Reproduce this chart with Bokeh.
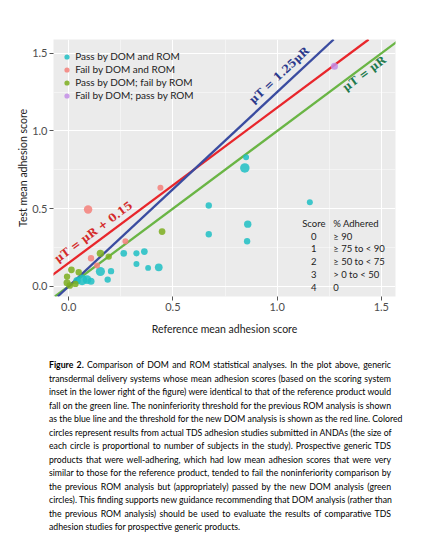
import math
from bokeh.plotting import figure
from bokeh.models import ColumnDataSource, FixedTicker, Slope, Label, Div, Range1d
from bokeh.layouts import column
from bokeh.embed import file_html
from bokeh.resources import INLINE

# ---------------- data ----------------
pass_both_x = [0.851, 0.845, 0.672, 1.157, 0.859, 0.672, 0.856, 0.264, 0.325, 0.363,
               0.325, 0.381, 0.432, 0.152, 0.203, 0.187, 0.064, 0.088, 0.107, 0.040]
pass_both_y = [0.831, 0.762, 0.520, 0.541, 0.400, 0.335, 0.290, 0.212, 0.212, 0.223,
               0.144, 0.118, 0.122, 0.095, 0.097, 0.043, 0.041, 0.043, 0.032, 0.035]
pass_both_n = [30, 80, 35, 30, 50, 35, 35, 40, 32, 40, 30, 28, 55, 75, 35, 35, 95, 70, 45, 50]

fail_both_x = [0.093, 0.440, 0.272, 0.107, 0.136]
fail_both_y = [0.494, 0.634, 0.290, 0.180, 0.133]
fail_both_n = [65, 30, 28, 35, 30]

pass_dom_x = [0.448, 0.152, 0.192, 0.013, 0.048, -0.008, 0.005, 0.032, -0.008]
pass_dom_y = [0.352, 0.212, 0.191, 0.106, 0.090, 0.022, 0.005, 0.015, 0.062]
pass_dom_n = [40, 50, 35, 40, 35, 45, 40, 35, 35]

fail_dom_x = [1.275]
fail_dom_y = [1.417]
fail_dom_n = [45]

series_names = ["Pass by DOM and ROM", "Fail by DOM and ROM",
                "Pass by DOM; fail by ROM", "Fail by DOM; pass by ROM"]

tick_values = [0.0, 0.5, 1.0, 1.5]
tick_labels = ["0.0", "0.5", "1.0", "1.5"]
minor_values = [0.25, 0.75, 1.25]

score_levels = ["0", "1", "2", "3", "4"]
pct_adhered = ["\u2265 90", "\u2265 75 to  < 90", "\u2265 50 to < 75", "> 0 to < 50", "0"]

# lines: (gradient, intercept)
equal_line = (1.0, 0.0)
rom_line = (1.25, 0.0)
dom_line = (1.0, 0.15)

caption_lines = [
    "<b>Figure 2.</b> Comparison of DOM and ROM statistical analyses. In the plot above, generic",
    "transdermal delivery systems whose mean adhesion scores (based on the scoring system",
    "inset in the lower right of the figure) were identical to that of the reference product would",
    "fall on the green line. The noninferiority threshold for the previous ROM analysis is shown",
    "as the blue line and the threshold for the new DOM analysis is shown as the red line. Colored",
    "circles represent results from actual TDS adhesion studies submitted in ANDAs (the size of",
    "each circle is proportional to number of subjects in the study). Prospective generic TDS",
    "products that were well-adhering, which had low mean adhesion scores that were very",
    "similar to those for the reference product, tended to fail the noninferiority comparison by",
    "the previous ROM analysis but (appropriately) passed by the new DOM analysis (green",
    "circles). This finding supports new guidance recommending that DOM analysis (rather than",
    "the previous ROM analysis) should be used to evaluate the results of comparative TDS",
    "adhesion studies for prospective generic products.",
]

# ---------------- figure ----------------
X_START, X_END = -0.073, 1.568
Y_START, Y_END = -0.066, 1.589
FW, FH = 342, 257

p = figure(frame_width=FW, frame_height=FH,
           x_range=Range1d(X_START, X_END), y_range=Range1d(Y_START, Y_END),
           output_backend="svg", toolbar_location=None,
           min_border_left=53, min_border_right=23, min_border_top=39, min_border_bottom=52)
p.background_fill_color = "#ebebeb"
p.border_fill_color = "white"
p.outline_line_color = None

for ax in (p.xaxis[0], p.yaxis[0]):
    ax.ticker = FixedTicker(ticks=tick_values, minor_ticks=minor_values)
    ax.major_label_overrides = {v: l for v, l in zip(tick_values, tick_labels)}
    ax.axis_line_color = None
    ax.major_tick_line_color = "#555555"
    ax.major_tick_in = 0
    ax.major_tick_out = 4
    ax.minor_tick_line_color = None
    ax.major_label_text_font = "Lato"
    ax.major_label_text_font_size = "11px"
    ax.major_label_text_color = "#4d4d4d"
    ax.axis_label_text_font = "Lato"
    ax.axis_label_text_font_size = "10.5px"
    ax.axis_label_text_font_style = "normal"
    ax.axis_label_text_color = "#222222"

p.xaxis.axis_label = "Reference mean adhesion score"
p.yaxis.axis_label = "Test mean adhesion score"
p.xaxis.major_label_standoff = 2
p.yaxis.major_label_standoff = 2
p.xaxis.axis_label_standoff = 9
p.yaxis.axis_label_standoff = 0

for g in (p.xgrid[0], p.ygrid[0]):
    g.grid_line_color = "white"
    g.grid_line_width = 1.1
    g.minor_grid_line_color = "white"
    g.minor_grid_line_width = 0.6
    g.minor_grid_line_alpha = 0.8

# threshold lines
line_specs = [(equal_line, "#6ab545"), (dom_line, "#e8262b"), (rom_line, "#3a4ca0")]
for (grad, icpt), col in line_specs:
    s = Slope(gradient=grad, y_intercept=icpt, line_color=col, line_width=2.3)
    s.level = "underlay"
    p.add_layout(s)

# points
def size_of(ns):
    return [3.9 + 0.07 * n for n in ns]

groups = [
    (pass_both_x, pass_both_y, pass_both_n, "#1fbfc4", series_names[0]),
    (fail_both_x, fail_both_y, fail_both_n, "#f4807a", series_names[1]),
    (pass_dom_x, pass_dom_y, pass_dom_n, "#7cae1e", series_names[2]),
    (fail_dom_x, fail_dom_y, fail_dom_n, "#c38ee6", series_names[3]),
]
for xs, ys, ns, col, name in groups:
    src = ColumnDataSource(dict(x=xs, y=ys, s=size_of(ns)))
    p.scatter("x", "y", size="s", source=src, fill_color=col, line_color=None,
              fill_alpha=0.85, legend_label=name)

leg = p.legend[0]
leg.location = (6.2, 194.5)
leg.background_fill_alpha = 0
leg.border_line_color = None
leg.label_text_font = "Lato"
leg.label_text_font_size = "10px"
leg.label_text_color = "#222222"
leg.glyph_width = 15
leg.glyph_height = 13
leg.label_height = 13
leg.spacing = 0
leg.padding = 0
leg.margin = 0
leg.label_standoff = 1

# rotated equation labels
ppx = FW / (X_END - X_START)
ppy = FH / (Y_END - Y_START)

def angle_for(grad):
    return math.atan(grad * ppy / ppx)

eq_font = "DejaVu Serif"
p.add_layout(Label(x=1.011, y=1.357, text="\u03bcT = 1.25\u03bcR", angle=angle_for(rom_line[0]),
                   text_align="center", text_baseline="middle", text_font=eq_font,
                   text_font_style="bold", text_font_size="11px", text_color="#2b3a8c"))
p.add_layout(Label(x=1.419, y=1.368, text="\u03bcT = \u03bcR", angle=angle_for(equal_line[0]),
                   text_align="center", text_baseline="middle", text_font=eq_font,
                   text_font_style="bold", text_font_size="11px", text_color="#1f7a4d"))
p.add_layout(Label(x=0.119, y=0.348, text="\u03bcT = \u03bcR + 0.15", angle=angle_for(dom_line[0]),
                   text_align="center", text_baseline="middle", text_font=eq_font,
                   text_font_style="bold", text_font_size="11px", text_color="#d42a2a"))

# score inset table
tbl_font = dict(text_font="Lato", text_font_size="9.5px", text_color="#222222",
                text_baseline="middle")
head_y = 0.406
step = 0.0824
p.add_layout(Label(x=1.176, y=head_y, text="Score", text_align="center", **tbl_font))
p.add_layout(Label(x=1.269, y=head_y, text="% Adhered", text_align="left", **tbl_font))
for i, (sc, pc) in enumerate(zip(score_levels, pct_adhered)):
    yy = head_y - step * (i + 1)
    p.add_layout(Label(x=1.176, y=yy, text=sc, text_align="center", **tbl_font))
    p.add_layout(Label(x=1.269, y=yy, text=pc, text_align="left", **tbl_font))

# caption
rows = []
for i, line in enumerate(caption_lines):
    last = "justify" if i < len(caption_lines) - 1 else "left"
    rows.append(f'<div style="text-align:justify;text-align-last:{last};white-space:nowrap;">{line}</div>')
html = ('<div style="font-family:Lato;font-size:8.7px;line-height:13.5px;color:#000;width:342px;">'
        + "".join(rows) + "</div>")
cap = Div(text=html, width=342, margin=(10, 0, 0, 49))

layout = column(p, cap)
open("out.html", "w").write(file_html(layout, INLINE))
